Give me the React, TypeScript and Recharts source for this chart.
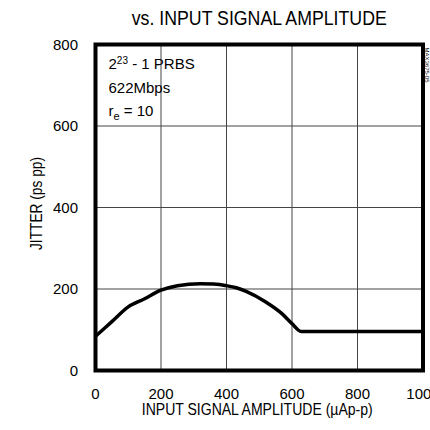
import {
  LineChart,
  Line,
  XAxis,
  YAxis,
  CartesianGrid,
  ReferenceArea,
  Label,
} from "recharts";

// input amplitude (uAp-p) and jitter (ps pp)
const amplitude = [0, 50, 100, 150, 200, 250, 320, 360, 400, 430, 460, 520, 570, 600, 628, 700, 800, 900, 1000];
const jitter = [84, 120, 156, 176, 197, 208, 213, 212, 208, 203, 194, 168, 139, 115, 96, 96, 96, 96, 96];

const xTicks = [0, 200, 400, 600, 800, 1000];
const yTicks = [0, 200, 400, 600, 800];

const data = amplitude.map((a, i) => ({ amplitude: a, jitter: jitter[i] }));

const font = '"Liberation Sans", Arial, sans-serif';

// the original uses a condensed face; squeeze the regular one to the measured width
const Squeezed = ({ x, y, text, len, size, angle = 0 }: any) => (
  <text
    x={x}
    y={y}
    fontSize={size}
    fontFamily={font}
    fill="#000"
    textAnchor="middle"
    textLength={len}
    lengthAdjust="spacingAndGlyphs"
    transform={angle ? `rotate(${angle} ${x} ${y})` : undefined}
  >
    {text}
  </text>
);

const Title = (props: any) => {
  const { x, y, width } = props.viewBox;
  return <Squeezed x={x + width / 2} y={y - 19.5} text="vs. INPUT SIGNAL AMPLITUDE" len={255} size={20} />;
};

const XTitle = (props: any) => {
  const { x, y, width, height } = props.viewBox;
  return <Squeezed x={x + width / 2 - 2} y={y + height - 15} text="INPUT SIGNAL AMPLITUDE (µAp-p)" len={231} size={17} />;
};

const YTitle = (props: any) => {
  const { x, y, height } = props.viewBox;
  return <Squeezed x={x + 6} y={y + height / 2 - 4} text="JITTER (ps pp)" len={93} size={17} angle={-90} />;
};

const Notes = (props: any) => {
  const { x, y, width } = props.viewBox;
  return (
    <g fontFamily={font} fill="#000">
      <text x={x + 13} y={y + 24} fontSize={15}>
        2<tspan fontSize={10} dy={-5}>23</tspan>
        <tspan dy={5}> - 1 PRBS</tspan>
      </text>
      <text x={x + 13} y={y + 48} fontSize={15}>
        622Mbps
      </text>
      <text x={x + 13} y={y + 71} fontSize={15}>
        r<tspan fontSize={11} dy={4}>e</tspan>
        <tspan dy={-4}> = 10</tspan>
      </text>
      <text
        x={x + width + 2}
        y={y + 3}
        fontSize={6}
        transform={`rotate(90 ${x + width + 2} ${y + 3})`}
      >
        MAX3675-05
      </text>
    </g>
  );
};

export default function App() {
  return (
    <div style={{ position: "absolute", left: 0, top: 0, background: "#fff" }}>
      <LineChart
        width={430}
        height={430}
        data={data}
        margin={{ top: 44.5, right: 7, bottom: 0, left: 35.5 }}
      >
        <CartesianGrid stroke="#444" strokeWidth={1} />
        <XAxis
          dataKey="amplitude"
          type="number"
          domain={[0, 1000]}
          ticks={xTicks}
          interval={0}
          height={59.5}
          axisLine={false}
          tickLine={false}
          tickMargin={11.5}
          tick={{ fontSize: 15, fill: "#000", fontFamily: font }}
        >
          <Label content={XTitle} />
        </XAxis>
        <YAxis
          type="number"
          domain={[0, 800]}
          ticks={yTicks}
          width={60}
          axisLine={false}
          tickLine={false}
          tickMargin={11.5}
          tick={{ fontSize: 15, fill: "#000", fontFamily: font }}
        >
          <Label content={YTitle} />
        </YAxis>
        <Line
          type="monotone"
          dataKey="jitter"
          stroke="#000"
          strokeWidth={3.5}
          dot={false}
          isAnimationActive={false}
        />
        <ReferenceArea
          x1={0}
          x2={1000}
          y1={0}
          y2={800}
          fill="none"
          stroke="#000"
          strokeWidth={4}
        >
          <Label content={Title} />
          <Label content={Notes} />
        </ReferenceArea>
      </LineChart>
    </div>
  );
}
